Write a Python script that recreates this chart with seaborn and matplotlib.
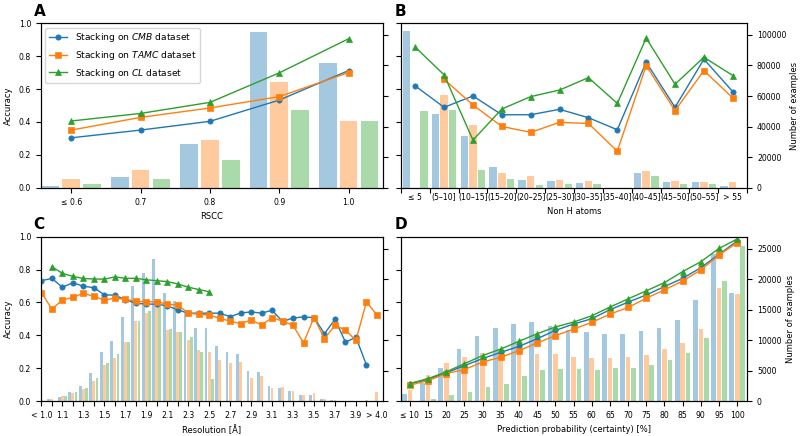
import numpy as np
import pandas as pd
import seaborn as sns
import matplotlib.pyplot as plt

nan = np.nan
plt.rcParams["font.family"] = ["DejaVu Sans"]
plt.rcParams["font.size"] = 5.6

colors = ["#1f77b4", "#ff7f0e", "#2ca02c"]
markers = ["o", "s", "^"]
sets = ["CMB", "TAMC", "CL"]

# A - RSCC
rscc_labels = ["≤ 0.6", "0.7", "0.8", "0.9", "1.0"]
rscc_acc_cmb = [0.304, 0.351, 0.404, 0.533, 0.712]
rscc_acc_tamc = [0.351, 0.428, 0.485, 0.554, 0.700]
rscc_acc_cl = [0.406, 0.452, 0.519, 0.698, 0.905]
rscc_n_cmb = [1100, 7000, 28400, 101700, 81400]
rscc_n_tamc = [6100, 11400, 31400, 69200, 43400]
rscc_n_cl = [2600, 5700, 18300, 50700, 43400]

# B - non H atoms
atoms_labels = ["≤ 5", "(5–10]", "(10–15]", "(15–20]", "(20–25]", "(25–30]",
                "(30–35]", "(35–40]", "(40–45]", "(45–50]", "(50–55]", "> 55"]
atoms_acc_cmb = [0.619, 0.489, 0.558, 0.444, 0.444, 0.477, 0.426, 0.353, 0.763, 0.489, 0.781, 0.584]
atoms_acc_tamc = [nan, 0.659, 0.503, 0.373, 0.337, 0.398, 0.391, 0.223, 0.742, 0.469, 0.712, 0.546]
atoms_acc_cl = [0.854, 0.686, 0.290, 0.479, 0.554, 0.594, 0.669, 0.513, 0.909, 0.629, 0.793, 0.682]
atoms_n_cmb = [102600, 48000, 33800, 13800, 5000, 4400, 3500, 0, 9800, 3900, 3700, 1500]
atoms_n_tamc = [0, 60900, 40800, 9800, 7600, 5000, 4600, 0, 11100, 4800, 3900, 3900]
atoms_n_cl = [50200, 50900, 12000, 5700, 1700, 2800, 2400, 0, 7900, 2400, 2400, 0]

# C - resolution
res_labels = ["< 1.0", "1.0", "1.1", "1.2", "1.3", "1.4", "1.5", "1.6", "1.7", "1.8", "1.9",
              "2.0", "2.1", "2.2", "2.3", "2.4", "2.5", "2.6", "2.7", "2.8", "2.9", "3.0",
              "3.1", "3.2", "3.3", "3.4", "3.5", "3.6", "3.7", "3.8", "3.9", "4.0", "> 4.0"]
res_acc_cmb = [0.733, 0.746, 0.693, 0.720, 0.699, 0.690, 0.647, 0.644, 0.618, 0.595, 0.591, 0.589,
               0.580, 0.555, 0.535, 0.535, 0.535, 0.535, 0.514, 0.536, 0.543, 0.535, 0.553, 0.484,
               0.506, 0.512, 0.508, 0.410, 0.498, 0.359, 0.388, 0.220, nan]
res_acc_tamc = [0.660, 0.560, 0.615, 0.632, 0.656, 0.637, 0.615, 0.626, 0.619, 0.609, 0.603, 0.606,
                0.589, 0.585, 0.535, 0.528, 0.524, 0.503, 0.487, 0.471, 0.494, 0.463, 0.508, 0.487,
                0.461, 0.355, 0.508, 0.380, 0.461, 0.432, 0.369, 0.604, 0.524]
res_acc_cl = [nan, 0.818, 0.777, 0.759, 0.746, 0.743, 0.742, 0.756, 0.747, 0.747, 0.738, 0.733,
              0.727, 0.713, 0.693, 0.679, 0.665] + [nan] * 16
res_n_cmb = [0, 270, 730, 1490, 2480, 4670, 7990, 9800, 13770, 18900, 21060, 23300, 17790, 16520,
             14500, 12020, 11960, 9100, 8100, 7720, 4970, 4860, 2480, 2210, 1650, 950, 950, 320,
             160, 0, 0, 0, 0]
res_n_tamc = [140, 270, 780, 1270, 1920, 3290, 5890, 7050, 9640, 13120, 14500, 16790, 11690, 11290,
              10070, 8420, 8150, 6720, 6180, 6350, 3860, 4130, 2210, 2320, 1590, 1000, 1320, 320,
              160, 60, 60, 140, 1540]
res_n_cl = [0, 80, 890, 1540, 2210, 3750, 6240, 7720, 9750, 13230, 14850, 16520, 11850, 11290,
            10480, 7990, 3590] + [0] * 16

# D - prediction probability
prob_labels = ["≤ 10"] + [str(v) for v in range(15, 101, 5)]
prob_acc_cmb = [0.107, 0.131, 0.172, 0.216, 0.259, 0.297, 0.333, 0.380, 0.430, 0.469, 0.501,
                0.556, 0.602, 0.646, 0.697, 0.747, 0.812, 0.893, 0.974]
prob_acc_tamc = [0.097, 0.125, 0.168, 0.192, 0.238, 0.267, 0.307, 0.354, 0.398, 0.438, 0.479,
                 0.529, 0.570, 0.626, 0.677, 0.731, 0.798, 0.889, 0.964]
prob_acc_cl = [0.107, 0.137, 0.178, 0.228, 0.277, 0.317, 0.364, 0.410, 0.451, 0.481, 0.519,
               0.572, 0.622, 0.671, 0.721, 0.788, 0.848, 0.929, 0.986]
prob_n_cmb = [1200, 2950, 5400, 8570, 10750, 11960, 12670, 12950, 12340, 11690, 11300, 10980,
              10980, 11520, 12070, 13320, 16600, 24090, 17700]
prob_n_tamc = [1800, 4300, 6200, 7300, 7860, 7310, 7700, 7700, 7700, 7310, 7150, 7150, 7310,
               7590, 8570, 9500, 11800, 18520, 17540]
prob_n_cl = [0, 380, 1030, 1570, 2290, 2840, 4150, 5130, 5240, 5240, 5130, 5510, 5510, 5950,
             6770, 7970, 10420, 19720, 25500]

LABEL_FS = 6.0


def panel(rect, labels, accs, counts, count_max, gap):
    ax = fig.add_axes(rect)
    ax2 = ax.twinx()
    n = len(labels)
    df = pd.DataFrame({
        "cat": labels * 3,
        "count": list(counts[0]) + list(counts[1]) + list(counts[2]),
        "set": sum([[s] * n for s in sets], []),
    })
    sns.barplot(data=df, x="cat", y="count", hue="set", order=labels, hue_order=sets,
                palette=colors, saturation=1, alpha=0.4, width=0.9, gap=gap, linewidth=0,
                legend=False, ax=ax2)
    handles = []
    for vals, c, m, s in zip(accs, colors, markers, sets):
        sns.lineplot(x=np.arange(n), y=vals, ax=ax, color=c, marker=m, markersize=3.8,
                     markeredgecolor=c, markeredgewidth=0.5, linewidth=1, legend=False)
        line = ax.lines[-1]
        line.set_label(r"Stacking on $\it{" + s + "}$ dataset")
        handles.append(line)
    ax.set_zorder(ax2.get_zorder() + 1)
    ax.patch.set_visible(False)
    ax.set_ylim(0, 1.0)
    ax2.set_ylim(0, count_max)
    ax.set_ylabel("")
    ax2.set_ylabel("")
    ax2.set_xlabel("")
    return ax, ax2, handles


fig = plt.figure(figsize=(8, 4.36), dpi=100)

# A
axA, axA2, hA = panel([0.051, 0.569, 0.428, 0.378], rscc_labels,
                      [rscc_acc_cmb, rscc_acc_tamc, rscc_acc_cl],
                      [rscc_n_cmb, rscc_n_tamc, rscc_n_cl], 107600, 0.15)
axA.set_xlim(-0.44, 4.5)
axA.set_xticks(range(5))
axA.set_xticklabels(rscc_labels)
axA.set_xlabel("RSCC", fontsize=LABEL_FS)
axA.set_ylabel("Accuracy", fontsize=LABEL_FS)
axA.set_yticks(np.arange(0, 1.01, 0.2))
axA2.set_yticks(range(0, 100001, 20000))
axA2.set_yticklabels([])
axA.legend(handles=hA, loc="upper left", fontsize=6.6)

# B
axB, axB2, _ = panel([0.501, 0.569, 0.433, 0.378], atoms_labels,
                     [atoms_acc_cmb, atoms_acc_tamc, atoms_acc_cl],
                     [atoms_n_cmb, atoms_n_tamc, atoms_n_cl], 107600, 0.15)
axB.set_xlim(-0.5, 11.5)
axB.set_xticks(np.arange(-0.5, 11.6, 1))
axB.set_xticklabels([])
axB.set_xticks(range(12), minor=True)
axB.set_xticklabels(atoms_labels, minor=True)
axB.tick_params(axis="x", which="minor", length=0, pad=3.5)
axB.set_xlabel("Non H atoms", fontsize=LABEL_FS)
axB.set_yticks(np.arange(0, 1.01, 0.2))
axB.set_yticklabels([])
axB2.set_yticks(range(0, 100001, 20000))
axB2.set_ylabel("Number of examples", fontsize=LABEL_FS, labelpad=3)

# C
axC, axC2, _ = panel([0.051, 0.080, 0.428, 0.377], res_labels,
                     [res_acc_cmb, res_acc_tamc, res_acc_cl],
                     [res_n_cmb, res_n_tamc, res_n_cl], 27000, 0.1)
axC.set_xlim(-0.06, 32.6)
axC.set_xticks(range(33))
axC.set_xticklabels([l if i % 2 == 0 else "" for i, l in enumerate(res_labels)])
axC.set_xlabel("Resolution [Å]", fontsize=LABEL_FS)
axC.set_ylabel("Accuracy", fontsize=LABEL_FS)
axC.set_yticks(np.arange(0, 1.01, 0.2))
axC2.set_yticks(range(0, 25001, 5000))
axC2.set_yticklabels([])

# D
axD, axD2, _ = panel([0.501, 0.080, 0.433, 0.377], prob_labels,
                     [prob_acc_cmb, prob_acc_tamc, prob_acc_cl],
                     [prob_n_cmb, prob_n_tamc, prob_n_cl], 27000, 0.15)
axD.set_xlim(-0.5, 18.55)
axD.set_xticks(range(19))
axD.set_xticklabels(prob_labels)
axD.set_xlabel("Prediction probability (certainty) [%]", fontsize=LABEL_FS)
axD.set_yticks(np.arange(0, 1.01, 0.2))
axD.set_yticklabels([])
axD2.set_yticks(range(0, 25001, 5000))
axD2.set_ylabel("Number of examples", fontsize=LABEL_FS, labelpad=3)

for a in [axA, axB, axC, axD, axA2, axB2, axC2, axD2]:
    a.tick_params(labelsize=5.6)

fig.text(0.043, 0.99, "A", fontsize=11, fontweight="bold", va="top")
fig.text(0.493, 0.99, "B", fontsize=11, fontweight="bold", va="top")
fig.text(0.042, 0.502, "C", fontsize=11, fontweight="bold", va="top")
fig.text(0.493, 0.502, "D", fontsize=11, fontweight="bold", va="top")

fig.savefig("out.png", dpi=100)
